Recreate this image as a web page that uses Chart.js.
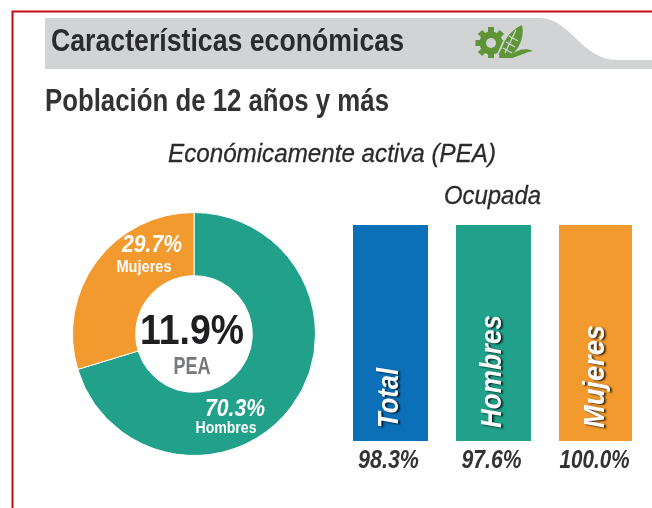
<!DOCTYPE html>
<html lang="es"><head><meta charset="utf-8">
<script src="https://cdn.jsdelivr.net/npm/chart.js@4"></script>
<style>
html,body{margin:0;padding:0;background:#fff;width:652px;height:508px;overflow:hidden}
.t{position:absolute;white-space:nowrap;font-family:"Liberation Sans",sans-serif;color:#2b2b2d;filter:blur(.4px);transform-origin:0 0;line-height:1}
canvas{position:absolute;filter:blur(.4px)}
#wrapD{position:absolute;left:59px;top:199px;width:270px;height:270px}
#wrapB{position:absolute;left:339px;top:215px;width:309px;height:265px}
svg{position:absolute;left:0;top:0}
</style></head><body>
<svg width="652" height="508">
<path d="M12.5 508V11.5H652" fill="none" stroke="#c20a14" stroke-width="2"/>
<path d="M45 18H540C570 18 582 60 617 60H652V69H45Z" fill="#d1d3d5"/>
<g filter="blur(.4px)">
<g fill="#5f9437" stroke="#5f9437">
<circle cx="491" cy="43" r="11.5" stroke="none"/>
<path stroke-width="6" d="M491 27V58M475.500 43H506.500M480 32L502 54M502 32L480 54"/>
<path stroke="none" d="M499 58C502 42 510 30 522 25C525 38 518 52 507 58Z"/>
<path stroke="none" d="M507 58C516 50 525 47 533 51C526 52 519 56 512 58Z"/>
</g>
<circle cx="491" cy="43" r="5" fill="#d1d3d5"/>
<path d="M497 56L508 32" stroke="#d1d3d5" stroke-width="1.800" fill="none"/>
<g stroke="#d1d3d5" stroke-width="1.300" fill="none">
<path d="M505 53L516 30M506 42L515 47M509 36L518 41M503 48L512 53"/>
</g>
</g>
</svg>
<div class="t" data-w="353" style="left:51px;top:25px;font-size:31px;font-weight:700">Características económicas</div>
<div class="t" data-w="344" style="left:45px;top:85px;font-size:31px;font-weight:700;color:#333335">Población de 12 años y más</div>
<div class="t" data-w="328" style="left:168px;top:141px;font-size:25px;font-style:italic;-webkit-text-stroke:.3px #2b2b2d">Económicamente activa (PEA)</div>
<div class="t" data-w="97" style="left:444px;top:183px;font-size:25px;font-style:italic;-webkit-text-stroke:.3px #2b2b2d">Ocupada</div>
<div id="wrapD"><canvas id="pie" width="270" height="270"></canvas></div>
<div id="wrapB"><canvas id="bars" width="309" height="265"></canvas></div>
<script>
const pieLabels = ['Hombres', 'Mujeres'];
const pieValues = [70.3, 29.7];
const pieColors = ['#21a08a', '#f29a2e'];
const centerValue = '11.9%';
const centerLabel = 'PEA';
const barLabels = ['Total', 'Hombres', 'Mujeres'];
const barHeights = [100, 100, 100];
const barValueLabels = ['98.3%', '97.6%', '100.0%'];
const barColors = ['#0b70b8', '#21a08a', '#f29a2e'];

const SANS = '"Liberation Sans",sans-serif';

document.querySelectorAll('.t').forEach(el => {
  const w = el.getBoundingClientRect().width;
  el.style.transform = 'scaleX(' + (+el.dataset.w / w) + ')';
});

// Draws text centred on (x, y) and squeezed to the given width.
function fitText(ctx, text, x, y, width, font) {
  ctx.save();
  ctx.font = font;
  ctx.textAlign = 'center';
  ctx.translate(x, y);
  ctx.scale(width / ctx.measureText(text).width, 1);
  ctx.fillText(text, 0, 0);
  ctx.restore();
}

const pieText = {
  id: 'pieText',
  afterDraw(c) {
    const x = c.ctx, m = c.getDatasetMeta(0), cx = m.data[0].x, cy = m.data[0].y;
    x.save();
    x.textBaseline = 'alphabetic';
    x.fillStyle = '#1f1f21';
    fitText(x, centerValue, cx - 2, cy + 10, 104, 'bold 42px ' + SANS);
    x.fillStyle = '#77787b';
    fitText(x, centerLabel, cx - 2, cy + 40, 37, 'bold 23px ' + SANS);
    x.fillStyle = '#fff';
    const big = 'italic bold 24px ' + SANS, small = 'bold 16px ' + SANS;
    fitText(x, pieValues[1].toFixed(1) + '%', cx - 42, cy - 82, 60, big);
    fitText(x, pieValues[0].toFixed(1) + '%', cx + 41, cy + 82, 60, big);
    fitText(x, pieLabels[1], cx - 50, cy - 62, 55, small);
    fitText(x, pieLabels[0], cx + 32, cy + 99, 61, small);
    x.restore();
  }
};

new Chart(document.getElementById('pie'), {
  type: 'doughnut',
  data: { labels: pieLabels, datasets: [{ data: pieValues, backgroundColor: pieColors, borderColor: '#fff', borderWidth: 1 }] },
  options: {
    responsive: false, animation: false, cutout: '48%',
    layout: { padding: 13 },
    plugins: { legend: { display: false }, tooltip: { enabled: false } }
  },
  plugins: [pieText]
});

const barTextWidths = [60, 113, 103];
const valueWidths = [61, 60, 70];
const barText = {
  id: 'barText',
  afterDatasetsDraw(c) {
    const x = c.ctx, m = c.getDatasetMeta(0), base = c.scales.y.getPixelForValue(0);
    m.data.forEach((b, i) => {
      x.save();
      x.translate(b.x - 1, base - 13);
      x.rotate(-Math.PI / 2);
      x.textBaseline = 'middle';
      x.fillStyle = '#fff';
      x.shadowColor = 'rgba(0,0,0,.75)';
      x.shadowOffsetX = 2; x.shadowOffsetY = 1; x.shadowBlur = 2;
      fitText(x, barLabels[i], barTextWidths[i] / 2, 0, barTextWidths[i], 'italic bold 30px ' + SANS);
      x.restore();
      x.save();
      x.textBaseline = 'alphabetic';
      x.fillStyle = '#333335';
      fitText(x, barValueLabels[i], b.x - 2, base + 27, valueWidths[i], 'italic bold 25px ' + SANS);
      x.restore();
    });
  }
};

new Chart(document.getElementById('bars'), {
  type: 'bar',
  data: { labels: barLabels, datasets: [{
    data: barHeights, backgroundColor: barColors,
    barPercentage: 75 / 103, categoryPercentage: 1,
    borderColor: '#fff', borderSkipped: false,
    borderWidth: ctx => ctx.dataIndex === 2 ? { right: 2, left: 0, top: 0, bottom: 0 } : 0
  }] },
  options: {
    responsive: false, animation: false,
    layout: { padding: { top: 10, bottom: 39, left: 0, right: 0 } },
    scales: { x: { display: false }, y: { display: false, min: 0, max: 100 } },
    plugins: { legend: { display: false }, tooltip: { enabled: false } }
  },
  plugins: [barText]
});
</script>
</body></html>
